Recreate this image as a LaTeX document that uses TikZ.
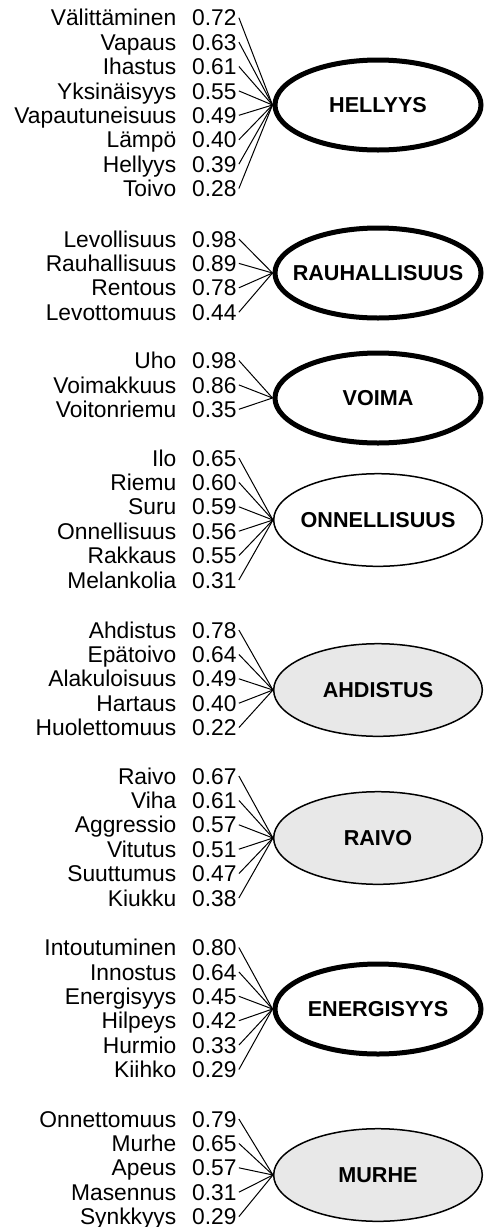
\documentclass[tikz,border=0pt]{standalone}
\usepackage{fontspec}
\setmainfont{Liberation Sans}
\usetikzlibrary{shapes.geometric}
\definecolor{factorgray}{RGB}{232,232,232}
\tikzset{
  item/.style={font=\fontsize{11.4}{13}\selectfont, inner sep=0pt, text height=8.16pt, text depth=0pt},
  load/.style={item, inner sep=1pt},
  link/.style={line width=0.5pt},
  factor/.style={ellipse, draw, inner sep=0pt, font=\fontsize{10.8}{12}\selectfont\bfseries},
  strong/.style={factor, line width=2.5pt, fill=white, minimum width=103pt, minimum height=45pt},
  plain/.style={factor, line width=0.75pt, fill=white, minimum width=104.3pt, minimum height=46.3pt},
  weak/.style={plain, fill=factorgray}
}
% #1 factor node, #2 y of first row, #3 list of word/loading
\newcommand{\indicators}[3]{%
  \foreach \w/\v [count=\i] in {#3} {
    \node[item, anchor=east] (#1-w\i) at (176.7, {#2+24.4*(\i-1)}) {\w};
    \node[load, anchor=west] (#1-v\i) at (189.7, {#2+24.4*(\i-1)}) {\v};
    \draw[link] (#1-v\i.east) -- (#1.west);
  }%
}
\begin{document}
\begin{tikzpicture}[x=0.5pt, y=-0.5pt]
  \useasboundingbox (0,0) rectangle (484,1227);
  % factors
  \node[strong] (hel) at (378,105)  {\makebox[0pt]{HELLYYS}};
  \node[strong] (rau) at (378,273)  {\makebox[0pt]{RAUHALLISUUS}};
  \node[strong] (voi) at (378,398)  {\makebox[0pt]{VOIMA}};
  \node[plain]  (onn) at (378,520)  {\makebox[0pt]{ONNELLISUUS}};
  \node[weak]   (ahd) at (378,690)  {\makebox[0pt]{AHDISTUS}};
  \node[weak]   (rai) at (378,838)  {\makebox[0pt]{RAIVO}};
  \node[strong] (ene) at (378,1009) {\makebox[0pt]{ENERGISYYS}};
  \node[weak]   (mur) at (378,1175) {\makebox[0pt]{MURHE}};
  % indicators
  \indicators{hel}{17.7}{Välittäminen/0.72, Vapaus/0.63, Ihastus/0.61, Yksinäisyys/0.55,
    Vapautuneisuus/0.49, Lämpö/0.40, Hellyys/0.39, Toivo/0.28}
  \indicators{rau}{239}{Levollisuus/0.98, Rauhallisuus/0.89, Rentous/0.78, Levottomuus/0.44}
  \indicators{voi}{360.5}{Uho/0.98, Voimakkuus/0.86, Voitonriemu/0.35}
  \indicators{onn}{458}{Ilo/0.65, Riemu/0.60, Suru/0.59, Onnellisuus/0.56, Rakkaus/0.55,
    Melankolia/0.31}
  \indicators{ahd}{630}{Ahdistus/0.78, Epätoivo/0.64, Alakuloisuus/0.49, Hartaus/0.40,
    Huolettomuus/0.22}
  \indicators{rai}{776}{Raivo/0.67, Viha/0.61, Aggressio/0.57, Vitutus/0.51, Suuttumus/0.47,
    Kiukku/0.38}
  \indicators{ene}{947.5}{Intoutuminen/0.80, Innostus/0.64, Energisyys/0.45, Hilpeys/0.42,
    Hurmio/0.33, Kiihko/0.29}
  \indicators{mur}{1119}{Onnettomuus/0.79, Murhe/0.65, Apeus/0.57, Masennus/0.31,
    Synkkyys/0.29}
\end{tikzpicture}
\end{document}
